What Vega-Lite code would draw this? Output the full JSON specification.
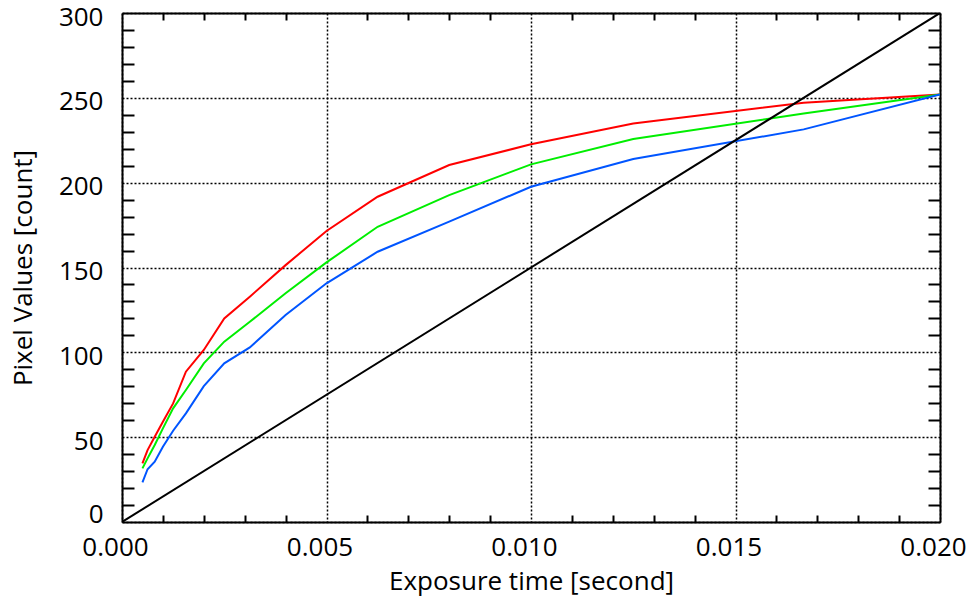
{
  "$schema": "https://vega.github.io/schema/vega-lite/v6.json",
  "width": 818,
  "height": 509,
  "autosize": "none",
  "padding": {"left": 122, "top": 13, "right": 31, "bottom": 81},
  "background": "white",
  "config": {
    "view": {"stroke": null},
    "font": "Open Sans",
    "axis": {
      "labelFont": "Open Sans",
      "titleFont": "Open Sans",
      "labelFontSize": 26,
      "titleFontSize": 26,
      "titleFontWeight": "normal",
      "labelColor": "black",
      "titleColor": "black",
      "domainColor": "black",
      "domainWidth": 2,
      "tickColor": "black",
      "tickWidth": 2
    }
  },
  "data": {
    "values": [
      {"t": 0.0005, "v": 34.6, "ch": "R"},
      {"t": 0.000625, "v": 42.4, "ch": "R"},
      {"t": 0.0008, "v": 50.3, "ch": "R"},
      {"t": 0.001, "v": 59.1, "ch": "R"},
      {"t": 0.00125, "v": 69.9, "ch": "R"},
      {"t": 0.0015625, "v": 88.6, "ch": "R"},
      {"t": 0.002, "v": 101.4, "ch": "R"},
      {"t": 0.0025, "v": 120.0, "ch": "R"},
      {"t": 0.003125, "v": 132.8, "ch": "R"},
      {"t": 0.004, "v": 151.4, "ch": "R"},
      {"t": 0.005, "v": 171.5, "ch": "R"},
      {"t": 0.00625, "v": 191.7, "ch": "R"},
      {"t": 0.008, "v": 210.4, "ch": "R"},
      {"t": 0.01, "v": 222.6, "ch": "R"},
      {"t": 0.0125, "v": 234.9, "ch": "R"},
      {"t": 0.016667, "v": 247.1, "ch": "R"},
      {"t": 0.02, "v": 252.0, "ch": "R"},
      {"t": 0.0005, "v": 31.6, "ch": "G"},
      {"t": 0.000625, "v": 37.5, "ch": "G"},
      {"t": 0.0008, "v": 45.4, "ch": "G"},
      {"t": 0.001, "v": 55.2, "ch": "G"},
      {"t": 0.00125, "v": 67.0, "ch": "G"},
      {"t": 0.0015625, "v": 77.8, "ch": "G"},
      {"t": 0.002, "v": 93.5, "ch": "G"},
      {"t": 0.0025, "v": 106.3, "ch": "G"},
      {"t": 0.003125, "v": 118.0, "ch": "G"},
      {"t": 0.004, "v": 134.8, "ch": "G"},
      {"t": 0.005, "v": 153.0, "ch": "G"},
      {"t": 0.00625, "v": 174.0, "ch": "G"},
      {"t": 0.008, "v": 192.7, "ch": "G"},
      {"t": 0.01, "v": 210.8, "ch": "G"},
      {"t": 0.0125, "v": 225.7, "ch": "G"},
      {"t": 0.016667, "v": 240.8, "ch": "G"},
      {"t": 0.02, "v": 252.0, "ch": "G"},
      {"t": 0.0005, "v": 23.4, "ch": "B"},
      {"t": 0.000625, "v": 31.1, "ch": "B"},
      {"t": 0.0008, "v": 35.5, "ch": "B"},
      {"t": 0.001, "v": 44.4, "ch": "B"},
      {"t": 0.00125, "v": 53.8, "ch": "B"},
      {"t": 0.0015625, "v": 64.0, "ch": "B"},
      {"t": 0.002, "v": 80.1, "ch": "B"},
      {"t": 0.0025, "v": 93.5, "ch": "B"},
      {"t": 0.003125, "v": 102.9, "ch": "B"},
      {"t": 0.004, "v": 122.0, "ch": "B"},
      {"t": 0.005, "v": 140.7, "ch": "B"},
      {"t": 0.00625, "v": 159.3, "ch": "B"},
      {"t": 0.008, "v": 177.0, "ch": "B"},
      {"t": 0.01, "v": 197.6, "ch": "B"},
      {"t": 0.0125, "v": 213.9, "ch": "B"},
      {"t": 0.016667, "v": 231.4, "ch": "B"},
      {"t": 0.02, "v": 252.0, "ch": "B"},
      {"t": 0.0, "v": 0, "ch": "K"},
      {"t": 0.02, "v": 300, "ch": "K"}
    ]
  },
  "resolve": {"axis": {"x": "independent", "y": "independent"}},
  "layer": [
    {
      "transform": [{"filter": "datum.ch !== 'K'"}],
      "mark": {"type": "line", "strokeWidth": 2, "clip": true},
      "encoding": {
        "x": {
          "field": "t", "type": "quantitative",
          "scale": {"domain": [0, 0.02], "nice": false, "zero": false},
          "axis": {
            "orient": "bottom",
            "title": "Exposure time [second]",
            "titlePadding": 8,
            "values": [0, 0.001, 0.002, 0.003, 0.004, 0.005, 0.006, 0.007, 0.008, 0.009, 0.01, 0.011, 0.012, 0.013, 0.014, 0.015, 0.016, 0.017, 0.018, 0.019, 0.02],
            "labelExpr": "round(datum.value*1000) % 5 === 0 ? format(datum.value, '.3f') : ''",
            "labelPadding": 12,
            "labelOffset": -7,
            "tickSize": {"condition": {"test": "round(datum.value*1000) % 5 === 0", "value": 0}, "value": -7},
            "grid": true,
            "gridColor": "black",
            "gridDash": [2, 2],
            "gridWidth": 1.5,
            "gridOpacity": {"condition": {"test": "round(datum.value*1000) % 5 === 0", "value": 1}, "value": 0},
            "labelFlush": false
          }
        },
        "y": {
          "field": "v", "type": "quantitative",
          "scale": {"domain": [0, 300], "nice": false},
          "axis": {
            "orient": "left",
            "title": "Pixel Values [count]",
            "titlePadding": 22,
            "values": [0, 10, 20, 30, 40, 50, 60, 70, 80, 90, 100, 110, 120, 130, 140, 150, 160, 170, 180, 190, 200, 210, 220, 230, 240, 250, 260, 270, 280, 290, 300],
            "labelExpr": "datum.value % 50 === 0 ? datum.value : ''",
            "labelPadding": 19,
            "labelOffset": {"condition": {"test": "datum.value === 0", "value": -8}, "value": 4},
            "tickSize": {"condition": {"test": "datum.value % 50 === 0", "value": 0}, "value": -12},
            "grid": true,
            "gridColor": "black",
            "gridDash": [2, 2],
            "gridWidth": 1.5,
            "gridOpacity": {"condition": {"test": "datum.value % 50 === 0", "value": 1}, "value": 0},
            "labelFlush": false
          }
        },
        "color": {
          "field": "ch", "type": "nominal",
          "scale": {"domain": ["R", "G", "B", "K"], "range": ["#ff0000", "#00ee00", "#0055ff", "#000000"]},
          "legend": null
        }
      }
    },
    {
      "transform": [{"filter": "datum.ch === 'K'"}],
      "mark": {"type": "line", "strokeWidth": 2, "clip": true},
      "encoding": {
        "x": {
          "field": "t", "type": "quantitative",
          "axis": {
            "orient": "top",
            "title": null,
            "values": [0, 0.001, 0.002, 0.003, 0.004, 0.005, 0.006, 0.007, 0.008, 0.009, 0.01, 0.011, 0.012, 0.013, 0.014, 0.015, 0.016, 0.017, 0.018, 0.019, 0.02],
            "labels": false,
            "grid": false,
            "tickSize": {"condition": {"test": "round(datum.value*1000) % 5 === 0", "value": 0}, "value": -7}
          }
        },
        "y": {
          "field": "v", "type": "quantitative",
          "axis": {
            "orient": "right",
            "title": null,
            "values": [0, 10, 20, 30, 40, 50, 60, 70, 80, 90, 100, 110, 120, 130, 140, 150, 160, 170, 180, 190, 200, 210, 220, 230, 240, 250, 260, 270, 280, 290, 300],
            "labels": false,
            "grid": false,
            "tickSize": {"condition": {"test": "datum.value % 50 === 0", "value": 0}, "value": -12}
          }
        },
        "color": {"field": "ch", "type": "nominal", "legend": null}
      }
    }
  ]
}
